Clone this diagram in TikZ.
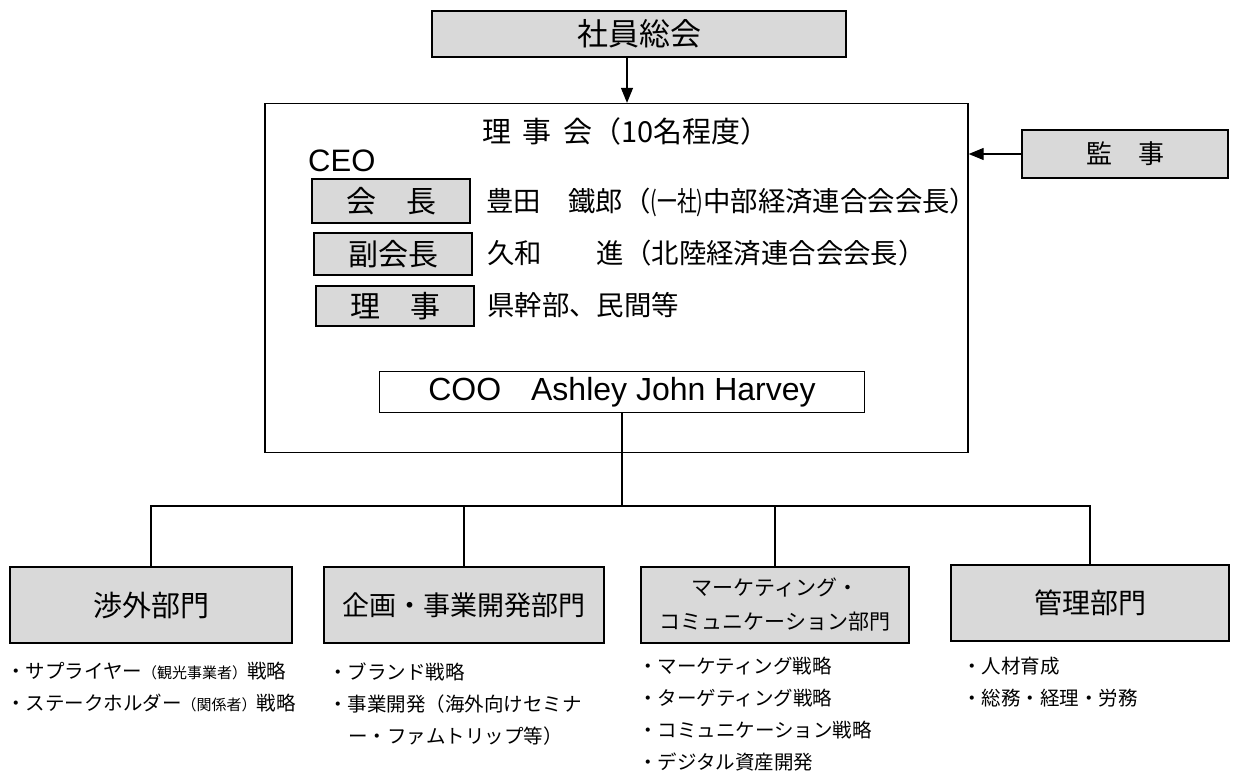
\documentclass[tikz,border=0pt]{standalone}
\usepackage{fontspec}
\usepackage{graphicx}
\setmainfont{Noto Sans CJK JP}
\newfontfamily\lat{Liberation Sans}
\usetikzlibrary{arrows.meta}
\definecolor{boxgray}{HTML}{D9D9D9}
\tikzset{
  graybox/.style={draw=black, line width=1.3pt, fill=boxgray, inner sep=0pt},
  deptbox/.style={draw=black, line width=1.8pt, fill=boxgray, inner sep=0pt, align=center},
  plainbox/.style={draw=black, line width=1.2pt, fill=white, inner sep=0pt},
  conn/.style={draw=black, line width=1.2pt},
  arr/.style={conn, -{Triangle[length=15pt,width=12pt]}},
  txt/.style={inner sep=0pt, anchor=west},
  bul/.style={inner sep=0pt, anchor=north west, font=\fontsize{19.5}{32}\selectfont, align=left},
}
\newcommand{\smalltxt}[1]{{\fontsize{15}{17}\selectfont #1}}
\begin{document}
\begin{tikzpicture}[x=1pt,y=-1pt]
\useasboundingbox (0,0) rectangle (1237,772);
% top
\node[graybox, minimum width=414pt, minimum height=46pt, font=\fontsize{31}{33}\selectfont] (gm) at (639,34) {社員総会};
\node[draw=black, line width=1.3pt, minimum width=703pt, minimum height=349pt, inner sep=0pt] (board) at (616.5,278) {};
\node[graybox, minimum width=206pt, minimum height=48pt, font=\fontsize{26}{28}\selectfont] (kansa) at (1125,154) {監　事};
\coordinate (a1) at (627,58);
\draw[arr] (a1) -- (a1 |- board.north);
\draw[arr] (kansa.west) -- (kansa.west -| board.east);
% board content
\node[inner sep=0pt, font=\fontsize{29}{31}\selectfont] (title) at (626,131) {理\hspace{0.4em}事\hspace{0.4em}会（10名程度）};
\node[txt, font=\lat\fontsize{31}{33}\selectfont] (ceo) at (308,161) {CEO};
\node[graybox, minimum width=158pt, minimum height=44pt, font=\fontsize{30}{32}\selectfont] (kaicho) at (391,201) {会　長};
\node[graybox, minimum width=158pt, minimum height=42pt, font=\fontsize{30}{32}\selectfont] (fuku) at (393,254) {副会長};
\node[graybox, minimum width=158pt, minimum height=40pt, font=\fontsize{30}{32}\selectfont] (riji) at (395,306) {理　事};
\node[txt, font=\fontsize{27.4}{29}\selectfont] (n1) at (486,202) {豊田　鐵郎（\scalebox{0.72}[1]{(一社)}中部経済連合会会長）};
\node[txt, font=\fontsize{27.4}{29}\selectfont] (n2) at (487,253) {久和　　進（北陸経済連合会会長）};
\node[txt, font=\fontsize{27.4}{29}\selectfont] (n3) at (487,305) {県幹部、民間等};
\node[plainbox, minimum width=485pt, minimum height=41pt, font=\lat\fontsize{32}{34}\selectfont] (coo) at (622,392) {COO\hspace{30pt}Ashley John Harvey};
% departments
\node[deptbox, minimum width=282pt, minimum height=76pt, font=\fontsize{29}{31}\selectfont] (d1) at (151,605) {渉外部門};
\node[deptbox, minimum width=280pt, minimum height=76pt, font=\fontsize{27}{29}\selectfont] (d2) at (464,605) {企画・事業開発部門};
\node[deptbox, minimum width=268pt, minimum height=76pt, font=\fontsize{21}{34}\selectfont] (d3) at (775,605) {マーケティング・\\コミュニケーション部門};
\node[deptbox, minimum width=278pt, minimum height=76pt, font=\fontsize{28}{30}\selectfont] (d4) at (1090,603) {管理部門};
\coordinate (bus) at (622,506);
\draw[conn] (coo.south) -- (bus);
\draw[conn] (d1.north) -- (d1.north |- bus) -- (d4.north |- bus) -- (d4.north);
\draw[conn] (d2.north) -- (d2.north |- bus);
\draw[conn] (d3.north) -- (d3.north |- bus);
% bullet lists
\node[bul] (l1) at (6,662) {・サプライヤー\smalltxt{（観光事業者）}戦略\\・ステークホルダー\smalltxt{（関係者）}戦略};
\node[bul] (l2) at (328,663) {・ブランド戦略\\・事業開発（海外向けセミナ\\\hspace{20pt}ー・ファムトリップ等）};
\node[bul] (l3) at (638,657) {・マーケティング戦略\\・ターゲティング戦略\\・コミュニケーション戦略\\・デジタル資産開発};
\node[bul] (l4) at (962,657) {・人材育成\\・総務・経理・労務};
\end{tikzpicture}
\end{document}
